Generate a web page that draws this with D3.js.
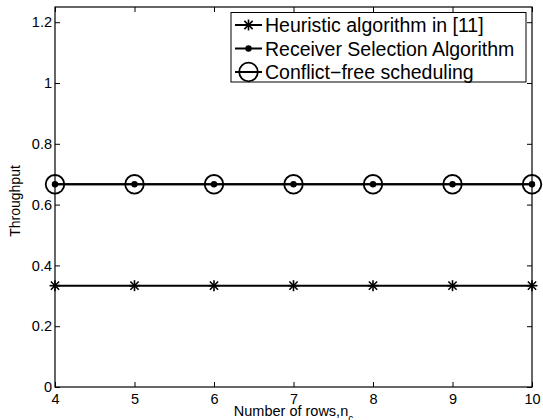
<!DOCTYPE html>
<html>
<head>
<meta charset="utf-8">
<script src="https://cdn.jsdelivr.net/npm/d3@7/dist/d3.min.js"></script>
<style>
  body { margin: 0; background: #fff; }
  text { font-family: "Liberation Sans", Arial, Helvetica, sans-serif; fill: #000; }
</style>
</head>
<body>
<div id="chart"></div>
<script>
// chart data
var rows = [4, 5, 6, 7, 8, 9, 10];
var heuristic = [0.3333, 0.3333, 0.3333, 0.3333, 0.3333, 0.3333, 0.3333];
var receiverSel = [0.6667, 0.6667, 0.6667, 0.6667, 0.6667, 0.6667, 0.6667];
var conflictFree = [0.6667, 0.6667, 0.6667, 0.6667, 0.6667, 0.6667, 0.6667];
var yTicks = [0, 0.2, 0.4, 0.6, 0.8, 1, 1.2];
var seriesNames = ["Heuristic algorithm in [11]", "Receiver Selection Algorithm", "Conflict\u2212free scheduling"];

var svgWidth = 543, svgHeight = 420;
var margin = { top: 7, right: 11, bottom: 33, left: 55 };
var width = svgWidth - margin.left - margin.right;
var height = svgHeight - margin.top - margin.bottom;

var svg = d3.select("#chart").append("svg")
  .attr("width", svgWidth)
  .attr("height", svgHeight);

var g = svg.append("g")
  .attr("transform", `translate(${margin.left}, ${margin.top})`);

var x = d3.scaleLinear().domain([4, 10]).range([0, width]);
var y = d3.scaleLinear().domain([0, 1.25]).range([height, 0]);

// axes, ticks drawn inward like matlab
var tickLen = 5;
g.append("g")
  .attr("transform", `translate(0, ${height})`)
  .call(d3.axisBottom(x).tickValues(rows).tickSize(-tickLen).tickPadding(7).tickFormat(d3.format("d")))
  .call(a => a.select(".domain").remove())
  .call(a => a.selectAll("text").attr("font-size", 14.5).attr("dy", "0.71em"));

g.append("g")
  .call(d3.axisTop(x).tickValues(rows).tickSize(-tickLen).tickFormat(""))
  .call(a => a.select(".domain").remove());

g.append("g")
  .call(d3.axisLeft(y).tickValues(yTicks).tickSize(-tickLen).tickPadding(3).tickFormat(d => d))
  .call(a => a.select(".domain").remove())
  .call(a => a.selectAll("text").attr("font-size", 14.5));

g.append("g")
  .attr("transform", `translate(${width}, 0)`)
  .call(d3.axisRight(y).tickValues(yTicks).tickSize(-tickLen).tickFormat(""))
  .call(a => a.select(".domain").remove());

g.selectAll(".tick line").attr("stroke", "#000");

g.append("rect")
  .attr("width", width)
  .attr("height", height)
  .attr("fill", "none")
  .attr("stroke", "#000")
  .attr("stroke-width", 1.2);

// marker helpers
function drawStar(sel, cx, cy) {
  var s = 5.5;
  var p = sel.append("g").attr("transform", `translate(${cx}, ${cy})`)
    .attr("stroke", "#000").attr("stroke-width", 1.6);
  p.append("line").attr("x1", -s).attr("x2", s).attr("y1", 0).attr("y2", 0);
  p.append("line").attr("x1", 0).attr("x2", 0).attr("y1", -s).attr("y2", s);
  p.append("line").attr("x1", -s * 0.75).attr("x2", s * 0.75).attr("y1", -s * 0.75).attr("y2", s * 0.75);
  p.append("line").attr("x1", -s * 0.75).attr("x2", s * 0.75).attr("y1", s * 0.75).attr("y2", -s * 0.75);
}
function drawDot(sel, cx, cy) {
  sel.append("circle").attr("cx", cx).attr("cy", cy).attr("r", 3.2).attr("fill", "#000");
}
function drawRing(sel, cx, cy) {
  sel.append("circle").attr("cx", cx).attr("cy", cy).attr("r", 9.3)
    .attr("fill", "none").attr("stroke", "#000").attr("stroke-width", 1.8);
}

var line = d3.line().x(d => x(d[0])).y(d => y(d[1]));
var series = [
  { vals: heuristic, marker: drawStar },
  { vals: receiverSel, marker: drawDot },
  { vals: conflictFree, marker: drawRing }
];

series.forEach(function(s) {
  var pts = rows.map((r, i) => [r, s.vals[i]]);
  g.append("path")
    .datum(pts)
    .attr("d", line)
    .attr("fill", "none")
    .attr("stroke", "#000")
    .attr("stroke-width", 2);
  pts.forEach(p => s.marker(g, x(p[0]), y(p[1])));
});

// axis labels
svg.append("text")
  .attr("x", margin.left + width / 2)
  .attr("y", 416)
  .attr("text-anchor", "middle")
  .attr("font-size", 14.5)
  .html('Number of rows,n<tspan baseline-shift="sub" font-size="10">c</tspan>');

svg.append("text")
  .attr("transform", `translate(20, 201) rotate(-90)`)
  .attr("text-anchor", "middle")
  .attr("font-size", 14)
  .text("Throughput");

// legend
var legend = svg.append("g");
legend.append("rect")
  .attr("x", 231).attr("y", 12.5)
  .attr("width", 295).attr("height", 69.5)
  .attr("fill", "#fff").attr("stroke", "#000").attr("stroke-width", 1);

var rowY = [25, 48.5, 72];
seriesNames.forEach(function(name, i) {
  legend.append("line")
    .attr("x1", 235).attr("x2", 262)
    .attr("y1", rowY[i]).attr("y2", rowY[i])
    .attr("stroke", "#000").attr("stroke-width", 2);
  series[i].marker(legend, 248.5, rowY[i]);
  legend.append("text")
    .attr("x", 265).attr("y", rowY[i])
    .attr("dy", "0.36em")
    .attr("font-size", 19.5)
    .text(name);
});
</script>
</body>
</html>
